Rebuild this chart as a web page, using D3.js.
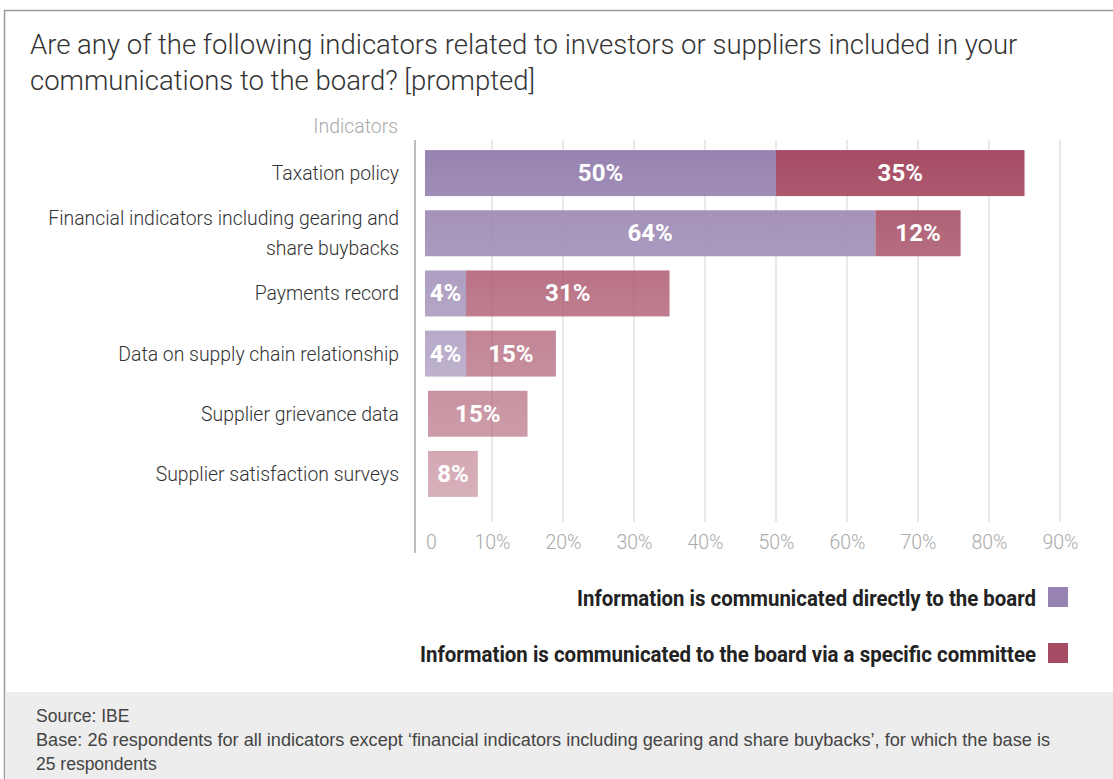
<!DOCTYPE html>
<html>
<head>
<meta charset="utf-8">
<script src="https://cdn.jsdelivr.net/npm/d3@7"></script>
<style>
  body { margin: 0; background: #fff; }
  svg { display: block; }
  .title { font-family: Roboto, "Liberation Sans", sans-serif; font-weight: 300; font-size: 27.5px; fill: #333; }
  .cat { font-family: Roboto, "Liberation Sans", sans-serif; font-weight: 300; font-size: 19.4px; fill: #333; }
  .tick text { font-family: Roboto, "Liberation Sans", sans-serif; font-weight: 300; font-size: 19.5px; fill: #aaa; }
  .val { font-family: Roboto, sans-serif; font-weight: bold; font-size: 24px; fill: #fff; }
  .legendText { font-family: Roboto, sans-serif; font-weight: bold; font-size: 21.5px; fill: #222; }
  .foot { font-family: "Liberation Sans", Arial, sans-serif; font-size: 17.5px; fill: #444; }
</style>
</head>
<body>
<div id="chart"></div>
<script>

var width = 1113;
var height = 779;

var categories = [
  "Taxation policy",
  "Financial indicators including gearing and|share buybacks",
  "Payments record",
  "Data on supply chain relationship",
  "Supplier grievance data",
  "Supplier satisfaction surveys"
];
var directValues = [50, 64, 4, 4, 0, 0];
var committeeValues = [35, 12, 31, 15, 15, 8];
var tickValues = [0, 10, 20, 30, 40, 50, 60, 70, 80, 90];
var seriesNames = [
  "Information is communicated directly to the board",
  "Information is communicated to the board via a specific committee"
];
var rowOpacity = [1, 0.88, 0.78, 0.68, 0.6, 0.48];

var purple = "#9783b1";
var red = "#a54b63";

var svg = d3.select("#chart")
  .append("svg")
  .attr("width", width)
  .attr("height", height);

// frame
svg.append("rect")
  .attr("x", 4.5).attr("y", 10.5)
  .attr("width", width + 10).attr("height", height)
  .attr("fill", "#fff").attr("stroke", "#9a9a9a").attr("stroke-width", 1.5);

// title
var titleLines = [
  "Are any of the following indicators related to investors or suppliers included in your",
  "communications to the board? [prompted]"
];
svg.selectAll(".title").data(titleLines).enter()
  .append("text")
  .attr("class", "title")
  .attr("x", 30)
  .attr("y", function(d, i) { return 54 + i * 36; })
  .text(function(d) { return d; });

var xScale = d3.scaleLinear()
  .domain([0, 90])
  .range([421, 1060]);

var yScale = d3.scaleBand()
  .domain(categories)
  .range([143, 504])
  .paddingInner(0.236)
  .paddingOuter(0.118);

var g = svg.append("g");

// gridlines
g.selectAll(".grid")
  .data(tickValues.filter(function(d) { return d > 0; }))
  .enter()
  .append("line")
  .attr("class", "grid")
  .attr("x1", function(d) { return xScale(d); })
  .attr("x2", function(d) { return xScale(d); })
  .attr("y1", 140)
  .attr("y2", 522)
  .attr("stroke", "#e2e2e2")
  .attr("stroke-width", 1.5);

// axis line
g.append("line")
  .attr("x1", 415).attr("x2", 415)
  .attr("y1", 140).attr("y2", 553)
  .attr("stroke", "#bdbdbd").attr("stroke-width", 2);

// x axis labels
var xAxis = g.append("g")
  .attr("class", "axis axis--x")
  .attr("transform", "translate(0,535)")
  .call(d3.axisBottom(xScale)
    .tickValues(tickValues)
    .tickSize(0)
    .tickFormat(function(d) { return d === 0 ? "0" : d + "%"; }));
xAxis.select(".domain").remove();
xAxis.selectAll(".tick text")
  .attr("dy", "0.71em")
  .attr("y", 0)
  .attr("dx", function(d) { return d === 0 ? 10 : 0; });

// "Indicators" header
svg.append("text")
  .attr("class", "cat")
  .attr("x", 398).attr("y", 133)
  .attr("text-anchor", "end")
  .style("fill", "#aaa")
  .text("Indicators");

// category labels
categories.forEach(function(c) {
  var lines = c.split("|");
  var cy = yScale(c) + yScale.bandwidth() / 2;
  var t = svg.append("text")
    .attr("class", "cat")
    .attr("text-anchor", "end")
    .attr("y", cy + 7 - (lines.length - 1) * 15);
  lines.forEach(function(l, i) {
    t.append("tspan")
      .attr("x", 399)
      .attr("dy", i === 0 ? 0 : 30)
      .text(l);
  });
});

// gradient to mimic slight shading of bars
var defs = svg.append("defs");
var grad = defs.append("linearGradient")
  .attr("id", "shade").attr("x1", 0).attr("x2", 0).attr("y1", 0).attr("y2", 1);
grad.append("stop").attr("offset", "0%").attr("stop-color", "#fff").attr("stop-opacity", 0);
grad.append("stop").attr("offset", "100%").attr("stop-color", "#fff").attr("stop-opacity", 0.08);

// bars
var minLabelWidth = 41;
var rows = categories.map(function(c, i) {
  var start = xScale(0) + (directValues[i] > 0 ? 4 : 7);
  var pEnd = directValues[i] > 0
    ? Math.max(xScale(directValues[i]), start + minLabelWidth)
    : start;
  var rEnd = Math.max(xScale(directValues[i] + committeeValues[i]), pEnd + minLabelWidth);
  return { cat: c, i: i, start: start, pEnd: pEnd, rEnd: rEnd,
           direct: directValues[i], committee: committeeValues[i] };
});

var bars = g.selectAll(".row")
  .data(rows)
  .enter()
  .append("g")
  .attr("class", "row");

bars.filter(function(d) { return d.direct > 0; })
  .append("rect")
  .attr("x", function(d) { return d.start; })
  .attr("y", function(d) { return yScale(d.cat); })
  .attr("width", function(d) { return d.pEnd - d.start; })
  .attr("height", yScale.bandwidth())
  .attr("fill", purple)
  .attr("fill-opacity", function(d) { return rowOpacity[d.i]; });

bars.append("rect")
  .attr("x", function(d) { return d.pEnd; })
  .attr("y", function(d) { return yScale(d.cat); })
  .attr("width", function(d) { return d.rEnd - d.pEnd; })
  .attr("height", yScale.bandwidth())
  .attr("fill", red)
  .attr("fill-opacity", function(d) { return rowOpacity[d.i]; });

bars.append("rect")
  .attr("x", function(d) { return d.start; })
  .attr("y", function(d) { return yScale(d.cat); })
  .attr("width", function(d) { return d.rEnd - d.start; })
  .attr("height", yScale.bandwidth())
  .attr("fill", "url(#shade)");

bars.filter(function(d) { return d.direct > 0; })
  .append("text")
  .attr("class", "val")
  .attr("text-anchor", "middle")
  .attr("x", function(d) { return (d.start + d.pEnd) / 2; })
  .attr("y", function(d) { return yScale(d.cat) + yScale.bandwidth() / 2 + 8; })
  .text(function(d) { return d.direct + "%"; });

bars.append("text")
  .attr("class", "val")
  .attr("text-anchor", "middle")
  .attr("x", function(d) { return (d.pEnd + d.rEnd) / 2; })
  .attr("y", function(d) { return yScale(d.cat) + yScale.bandwidth() / 2 + 8; })
  .text(function(d) { return d.committee + "%"; });

// legend
var legendWidths = [459, 616];
var legend = svg.selectAll(".legend")
  .data(seriesNames)
  .enter()
  .append("g")
  .attr("class", "legend")
  .attr("transform", function(d, i) { return "translate(0," + (587 + i * 56) + ")"; });

legend.append("rect")
  .attr("x", 1048).attr("y", 0)
  .attr("width", 20).attr("height", 20)
  .attr("fill", function(d, i) { return i === 0 ? purple : red; });

legend.append("text")
  .attr("class", "legendText")
  .attr("x", 1036).attr("y", 19)
  .attr("text-anchor", "end")
  .attr("textLength", function(d, i) { return legendWidths[i]; })
  .attr("lengthAdjust", "spacingAndGlyphs")
  .text(function(d) { return d; });

// footer
svg.append("rect")
  .attr("x", 5).attr("y", 692)
  .attr("width", width).attr("height", 90)
  .attr("fill", "#ededed");

var footLines = [
  "Source: IBE",
  "Base: 26 respondents for all indicators except \u2018financial indicators including gearing and share buybacks\u2019, for which the base is",
  "25 respondents"
];
svg.selectAll(".foot").data(footLines).enter()
  .append("text")
  .attr("class", "foot")
  .attr("x", 36)
  .attr("y", function(d, i) { return 722 + i * 24; })
  .attr("textLength", function(d, i) { return i === 1 ? 1014 : null; })
  .attr("lengthAdjust", "spacingAndGlyphs")
  .text(function(d) { return d; });

</script>
</body>
</html>
